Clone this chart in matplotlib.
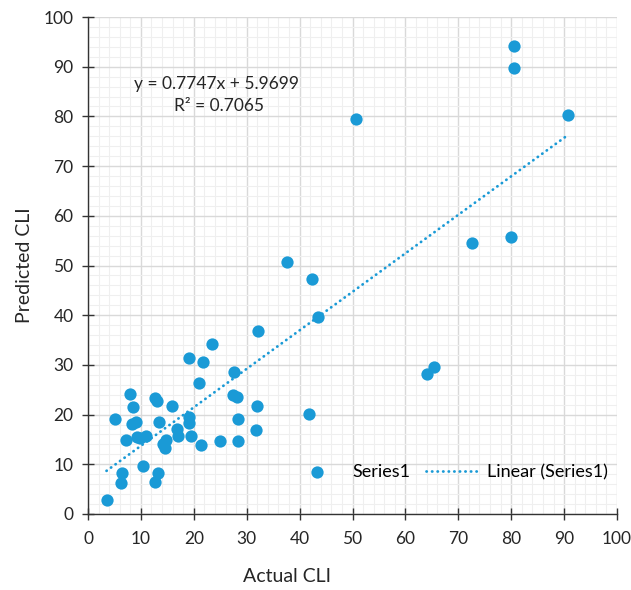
import matplotlib
matplotlib.use("Agg")
import matplotlib.pyplot as plt
from matplotlib.ticker import MultipleLocator
import numpy as np

plt.rcParams['font.family'] = ['Lato', 'DejaVu Sans']

## Data
actual = [3.5, 6.2, 6.5, 12.7, 13.2, 10.45, 7.1, 9.2, 9.8, 11.0,
          14.2, 14.6, 14.7, 17.1, 19.5, 21.3, 24.95, 28.3, 16.8, 31.7,
          5.1, 8.26, 9.07, 13.4, 19.0, 19.0, 28.3, 8.45, 15.9, 32.0,
          7.94, 12.7, 13.1, 27.5, 28.2, 21.0, 27.6, 19.0, 21.8, 23.4,
          32.1, 37.7, 42.4, 43.4, 41.8, 64.0, 65.4, 72.6, 80.0, 80.5,
          80.5, 90.7, 50.7]
predicted = [2.8, 6.3, 8.2, 6.5, 8.2, 9.7, 14.9, 15.4, 15.2, 15.6,
             14.0, 13.2, 14.9, 15.6, 15.6, 13.9, 14.7, 14.7, 17.1, 17.0,
             19.05, 18.1, 18.5, 18.6, 19.6, 18.4, 19.2, 21.5, 21.7, 21.7,
             24.1, 23.3, 22.8, 23.9, 23.6, 26.4, 28.6, 31.3, 30.6, 34.2,
             36.8, 50.8, 47.2, 39.7, 20.1, 28.2, 29.6, 54.6, 55.8, 89.7,
             94.2, 80.3, 79.5]

slope = 0.7747
intercept = 5.9699
r2 = 0.7065

blue = '#1a9ad6'
textc = '#262626'

fig = plt.figure(figsize=(6.31, 5.90), dpi=100)
ax = fig.add_axes([88 / 631, 76 / 590, 529 / 631, 497 / 590])

## Scatter points
ax.scatter(actual, predicted, s=78, color=blue, zorder=3, label='Series1',
           linewidths=0)

## Linear trendline
xs = np.array([min(actual), max(actual)])
ax.plot(xs, slope * xs + intercept, color=blue, linewidth=2,
        linestyle=(0, (0.1, 1.9)), dash_capstyle='round', zorder=2,
        label='Linear (Series1)')

ax.text(24.2, 86.5, 'y = %.4fx + %.4f' % (slope, intercept), ha='center',
        va='center', fontsize=12.5, color=textc)
ax.text(24.8, 82.1, 'R² = %.4f' % r2, ha='center', va='center',
        fontsize=12.5, color=textc)

## Axes
ax.set_xlim(0, 100)
ax.set_ylim(0, 100)
ax.xaxis.set_major_locator(MultipleLocator(10))
ax.yaxis.set_major_locator(MultipleLocator(10))
ax.xaxis.set_minor_locator(MultipleLocator(2))
ax.yaxis.set_minor_locator(MultipleLocator(2))
ax.grid(which='major', color='#d9d9d9', linewidth=1.0, zorder=0)
ax.grid(which='minor', color='#efefef', linewidth=0.8, zorder=0)
ax.set_axisbelow(True)

for side in ['top', 'right']:
    ax.spines[side].set_visible(False)
for side in ['left', 'bottom']:
    ax.spines[side].set_color('#333333')
    ax.spines[side].set_linewidth(1.0)

ax.tick_params(which='major', direction='inout', length=9, width=1,
               color='#333333', labelsize=12.5, labelcolor=textc, pad=6)
ax.tick_params(axis='x', which='major', pad=8)
ax.tick_params(which='minor', length=0)

ax.set_xlabel('Actual CLI', fontsize=14, color=textc)
ax.set_ylabel('Predicted CLI', fontsize=14, color=textc)
ax.xaxis.set_label_coords(0.376, -0.109)
ax.yaxis.set_label_coords(-0.104, 0.5)

ax.legend(loc='center left', bbox_to_anchor=(0.384, 0.0845), ncol=2,
          frameon=False, fontsize=13, handlelength=2.9, columnspacing=0.83,
          handletextpad=0.5, borderpad=0, borderaxespad=0)

fig.savefig('out.png', dpi=100)
